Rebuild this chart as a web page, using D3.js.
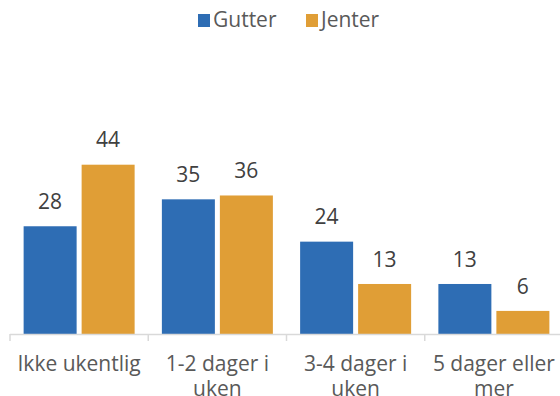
<!DOCTYPE html>
<html><head><meta charset="utf-8">
<script src="https://cdn.jsdelivr.net/npm/d3@7"></script>
<style>body{margin:0;background:#fff}svg{display:block}text{font-family:"Open Sans","Noto Sans",sans-serif}</style>
</head><body><svg id="c" width="560" height="396"></svg>
<script>
const categories = [["Ikke ukentlig"],["1-2 dager i","uken"],["3-4 dager i","uken"],["5 dager eller","mer"]];
const seriesNames = ["Gutter","Jenter"];
const gutter = [28,35,24,13];
const jenter = [44,36,13,6];
const colors = ["#2E6DB4","#E09E36"];

const svg = d3.select("#c");
const baseY = 334;
const x0 = d3.scaleBand().domain(d3.range(categories.length)).range([10,563]).padding(0);
const y = d3.scaleLinear().domain([0,44]).range([baseY,164.7]);
const barW = 53, gap = 5;
const series = [gutter, jenter];

const g = svg.append("g");
series.forEach((vals,si)=>{
  vals.forEach((v,i)=>{
    const cx = x0(i)+x0.bandwidth()/2;
    const bx = si===0 ? cx-gap/2-barW : cx+gap/2;
    g.append("rect").attr("x",bx).attr("y",y(v)).attr("width",barW).attr("height",baseY-y(v)).attr("fill",colors[si]);
    g.append("text").attr("x",bx+barW/2).attr("y",y(v)-17.4).attr("text-anchor","middle")
      .attr("font-size",21).attr("fill","#404040").text(v);
  });
});

// axis
const axis = svg.append("g");
axis.append("line").attr("x1",10).attr("x2",563).attr("y1",baseY+0.5).attr("y2",baseY+0.5).attr("stroke","#d9d9d9").attr("stroke-width",1.5);
d3.range(categories.length+1).forEach(i=>{
  const xx = i<categories.length ? x0(i) : x0.range()[1];
  axis.append("line").attr("x1",xx).attr("x2",xx).attr("y1",baseY).attr("y2",baseY+7).attr("stroke","#d9d9d9").attr("stroke-width",1.5);
});
categories.forEach((lines,i)=>{
  const t = axis.append("text").attr("text-anchor","middle").attr("font-size",21).attr("fill","#595959");
  lines.forEach((l,k)=>{
    t.append("tspan").attr("x",x0(i)+x0.bandwidth()/2).attr("y",371+k*25).text(l);
  });
});

// legend
const legX = [198,306];
seriesNames.forEach((n,i)=>{
  svg.append("rect").attr("x",legX[i]).attr("y",14).attr("width",12).attr("height",13).attr("fill",colors[i]);
  svg.append("text").attr("x",legX[i]+15).attr("y",27).attr("font-size",21).attr("fill","#595959").text(n);
});
</script></body></html>
